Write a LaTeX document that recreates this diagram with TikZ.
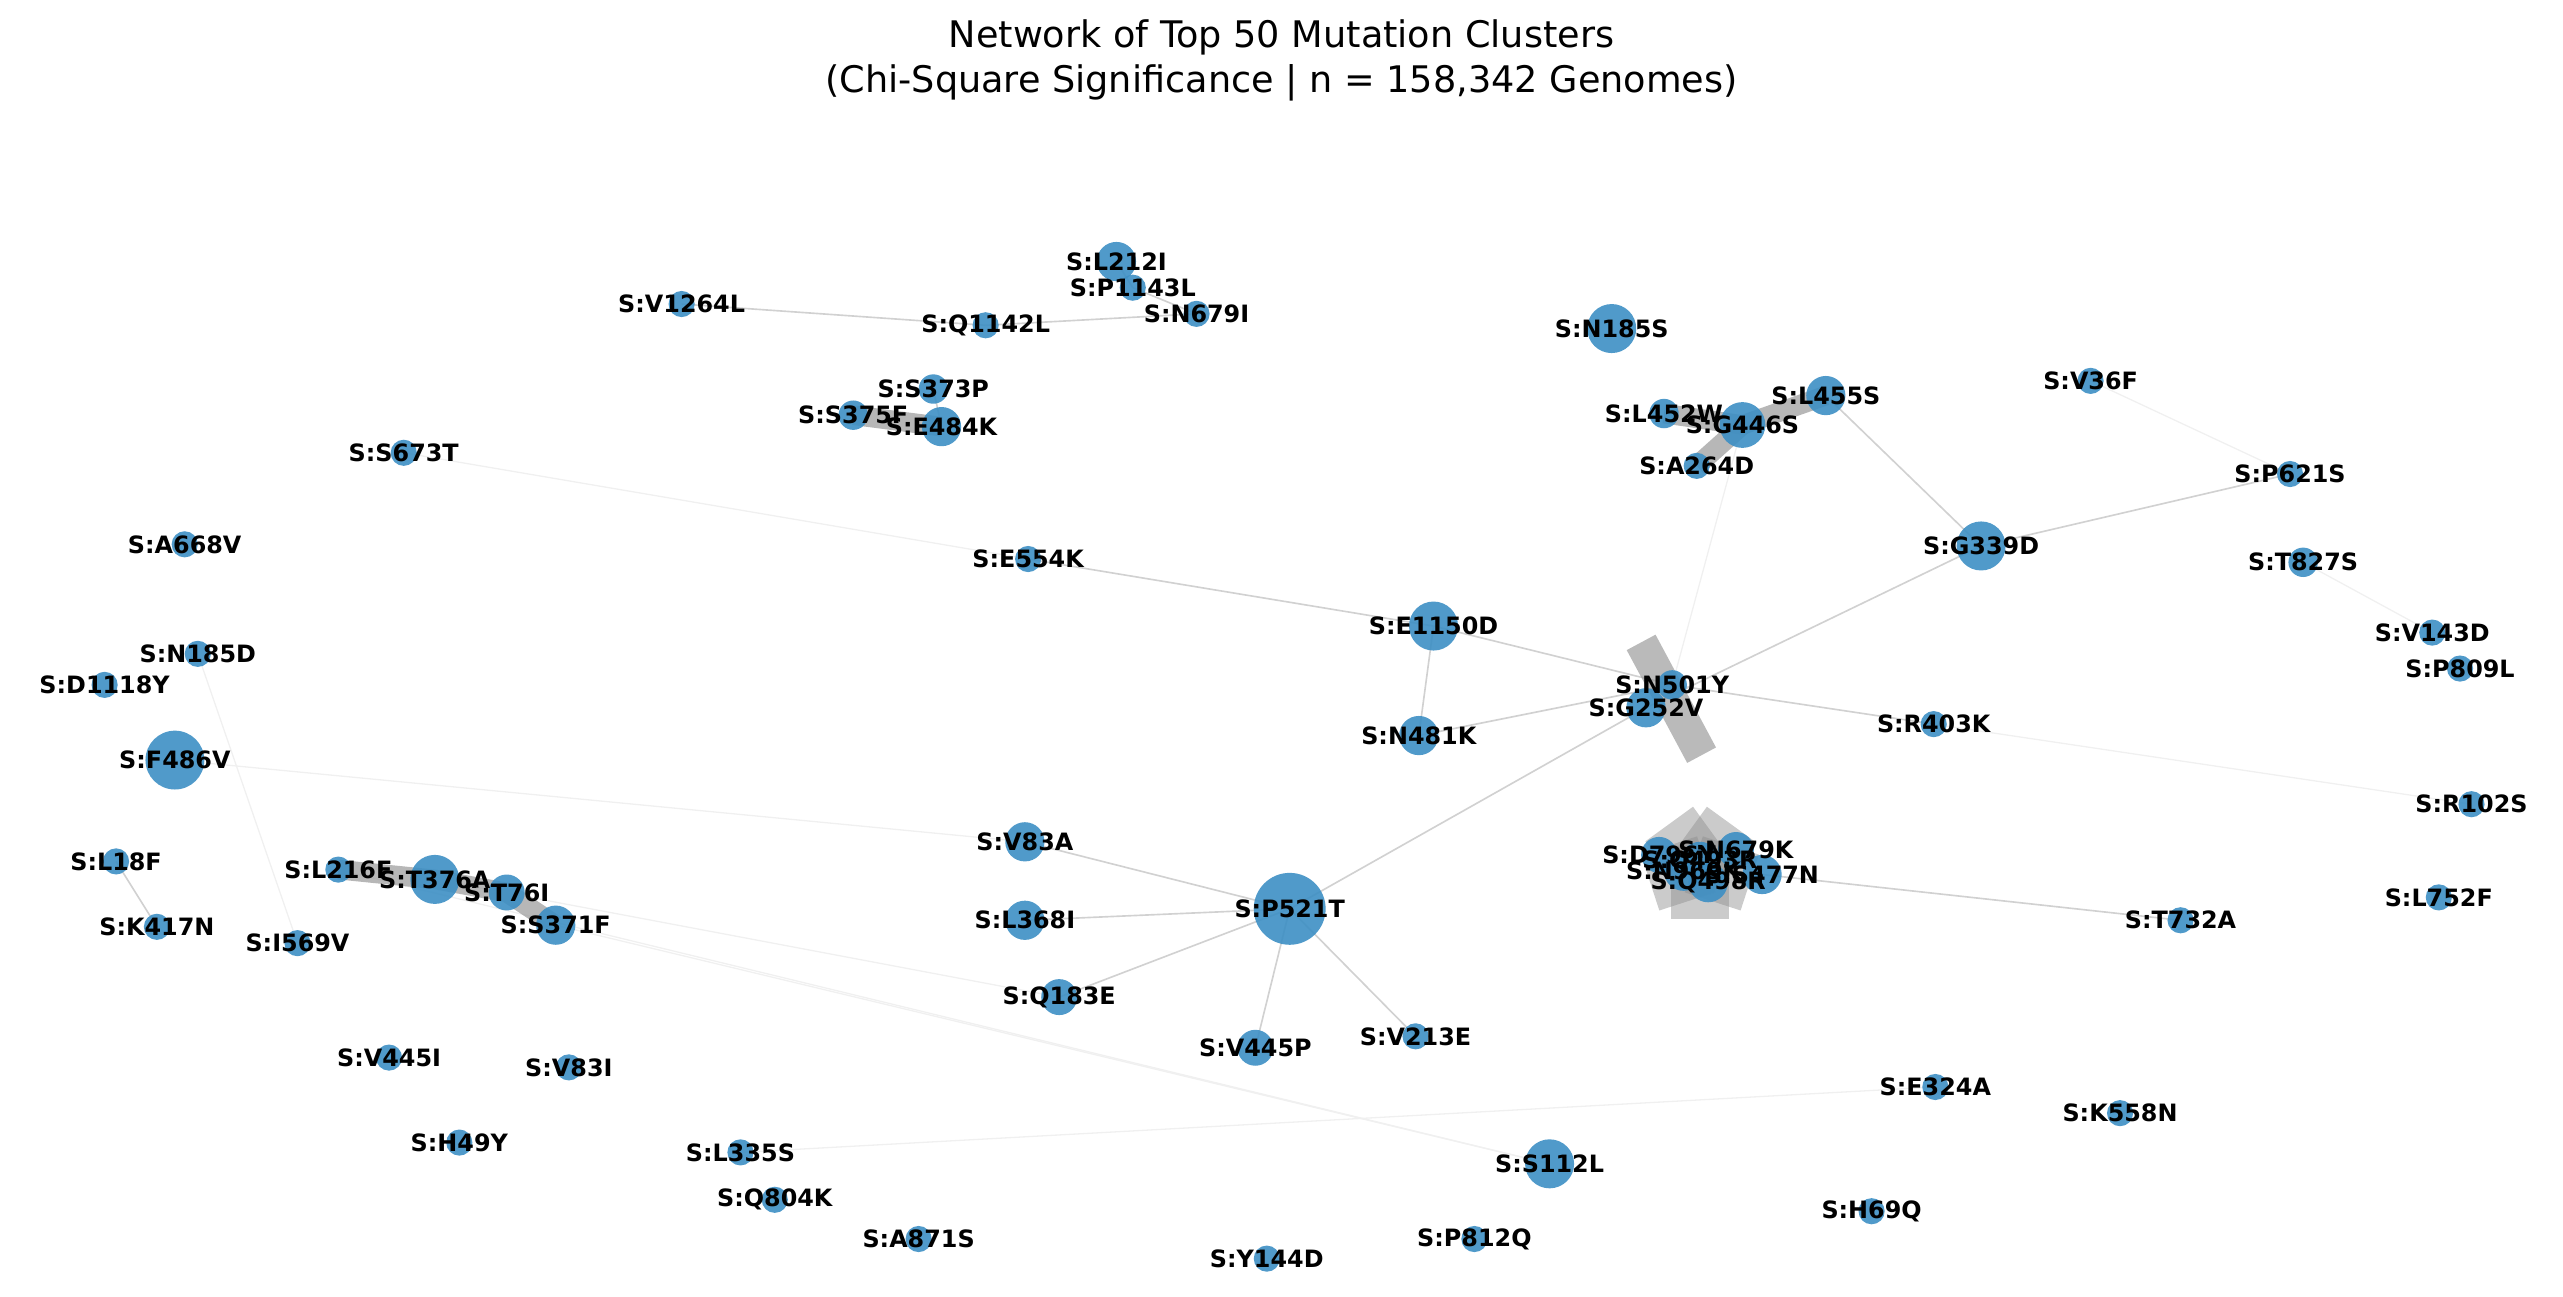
\documentclass[tikz,border=0pt]{standalone}
\usepackage{fontspec}
\setmainfont{DejaVu Sans}
\usetikzlibrary{calc}
\begin{document}
\begin{tikzpicture}[x=0.5pt,y=-0.5pt,
  lbl/.style={font=\fontsize{7.3}{7.5}\selectfont\bfseries,inner sep=0pt},
  ed/.style={draw=black!18,line width=0.5pt},
  fe/.style={draw=black!6,line width=0.4pt},
  thick edge/.style={draw=black!40,opacity=0.7,line width=6pt},
  bar/.style={draw=black!45,opacity=0.6,line width=10pt}]
\useasboundingbox (0,0) rectangle (1568,793);
\definecolor{nodec}{HTML}{3D8FC4}
\node[font=\fontsize{11.2}{14}\selectfont,align=center] (title) at (784,37) {Network of Top 50 Mutation Clusters\\(Chi-Square Significance | n = 158,342 Genomes)};
% positions
\foreach \n/\x/\y in {L212I/683/160,P1143L/693/176,N679I/732/192,Q1142L/603/199,V1264L/417/186,
 N185S/986/201,S373P/571/238,S375F/522/254,E484K/576/261,L452W/1018/253,G446S/1066/260,L455S/1117/242,A264D/1038/285,
 V36F/1279/233,P621S/1401/290,T827S/1409/344,G339D/1212/334,V143D/1488/387,P809L/1505/409,R102S/1512/492,L752F/1492/549,
 S673T/247/277,A668V/113/333,E554K/629/342,E1150D/877/383,N185D/121/400,D1118Y/64/419,F486V/107/465,
 N501Y/1023/419,G252V/1007/433,N481K/868/450,R403K/1183/443,
 D796Y/1015/523,N679K/1062/520,N969K/1030/533,S477N/1078/535,Q498R/1045/540,Q493R/1040/527,
 T732A/1334/563,L18F/71/527,K417N/96/567,L216F/207/532,T376A/266/538,T76I/310/546,S371F/340/566,I569V/182/577,
 V83A/627/515,L368I/627/563,P521T/789/556,Q183E/648/610,V445P/768/641,V213E/866/634,
 V445I/238/647,V83I/348/653,H49Y/281/699,L335S/453/705,Q804K/474/734,A871S/562/758,Y144D/775/770,P812Q/902/758,
 S112L/948/712,E324A/1184/665,K558N/1297/681,H69Q/1145/741}
 {\coordinate (\n) at (\x,\y);}
\coordinate (barA) at (1004,393); \coordinate (barB) at (1041,462);
\coordinate (cc) at (1040,530);
% faint edges
\draw[fe] (F486V) -- (V83A); \draw[fe] (N185D) -- (I569V); \draw[fe] (S371F) -- (S112L);
\draw[fe] (L335S) -- (E324A); \draw[fe] (T376A) -- (Q183E); \draw[fe] (V36F) -- (P621S);
\draw[fe] (T827S) -- (V143D); \draw[fe] (R403K) -- (R102S); \draw[fe] (G446S) -- (N501Y);
\draw[fe] (S673T) -- (E554K); \draw[fe] (L216F) -- (S112L);
% edges
\draw[ed] (V1264L) -- (Q1142L); \draw[ed] (Q1142L) -- (N679I); \draw[ed] (P1143L) -- (L212I); \draw[ed] (P1143L) -- (N679I);
\draw[ed] (S373P) -- (E484K); \draw[ed] (L455S) -- (G339D); \draw[ed] (P621S) -- (G339D); \draw[ed] (G339D) -- (G252V);
\draw[ed] (E554K) -- (E1150D); \draw[ed] (E1150D) -- (N501Y); \draw[ed] (E1150D) -- (N481K); \draw[ed] (N481K) -- (N501Y);
\draw[ed] (N501Y) -- (R403K); \draw[ed] (G252V) -- (P521T); \draw[ed] (L18F) -- (K417N);
\draw[ed] (P521T) -- (V83A); \draw[ed] (P521T) -- (L368I); \draw[ed] (P521T) -- (Q183E); \draw[ed] (P521T) -- (V445P); \draw[ed] (P521T) -- (V213E);
\draw[ed] (S477N) -- (T732A);
% thick edges
\draw[thick edge] (S375F) -- (E484K); \draw[thick edge] (L452W) -- (G446S); \draw[thick edge] (A264D) -- (G446S); \draw[thick edge] (G446S) -- (L455S);
\draw[thick edge] (L216F) -- (T376A) -- (T76I) -- (S371F);
\draw[bar] (barA) -- (barB);
\foreach \a in {90,162,234,306,18} {\draw[draw=black!45,opacity=0.45,line width=18pt] ($(cc)+(\a:-4)$) -- ($(cc)+(\a:32)$);}
% nodes
\foreach \n/\r in {L212I/12,P1143L/8,N679I/8,Q1142L/8,V1264L/8,N185S/15,S373P/9,S375F/9,E484K/12,L452W/9,G446S/14,L455S/12,A264D/8,
 V36F/8,P621S/8,T827S/9,G339D/15,V143D/8,P809L/8,R102S/8,L752F/8,S673T/8,A668V/8,E554K/8,E1150D/15,N185D/8,D1118Y/8,F486V/18,
 N501Y/9,G252V/12,N481K/12,R403K/8,D796Y/11,N679K/11,N969K/12,S477N/12,Q498R/12,Q493R/12,
 T732A/8,L18F/8,K417N/8,L216F/8,T376A/15,T76I/11,S371F/12,I569V/8,V83A/12,L368I/12,P521T/22,Q183E/11,V445P/11,V213E/8,
 V445I/8,V83I/8,H49Y/8,L335S/8,Q804K/8,A871S/8,Y144D/8,P812Q/8,S112L/15,E324A/8,K558N/8,H69Q/8}
 {\node[circle,fill=nodec,opacity=0.9,inner sep=0pt,minimum size=\r pt] (n\n) at (\n) {};}
% labels
\foreach \n in {L212I,P1143L,N679I,Q1142L,V1264L,N185S,S373P,S375F,E484K,L452W,G446S,L455S,A264D,
 V36F,P621S,T827S,G339D,V143D,P809L,R102S,L752F,S673T,A668V,E554K,E1150D,N185D,D1118Y,F486V,
 N501Y,G252V,N481K,R403K,D796Y,N679K,N969K,S477N,Q498R,Q493R,
 T732A,L18F,K417N,L216F,T376A,T76I,S371F,I569V,V83A,L368I,P521T,Q183E,V445P,V213E,
 V445I,V83I,H49Y,L335S,Q804K,A871S,Y144D,P812Q,S112L,E324A,K558N,H69Q}
 {\node[lbl] (l\n) at (\n) {S:\n};}
\end{tikzpicture}
\end{document}
